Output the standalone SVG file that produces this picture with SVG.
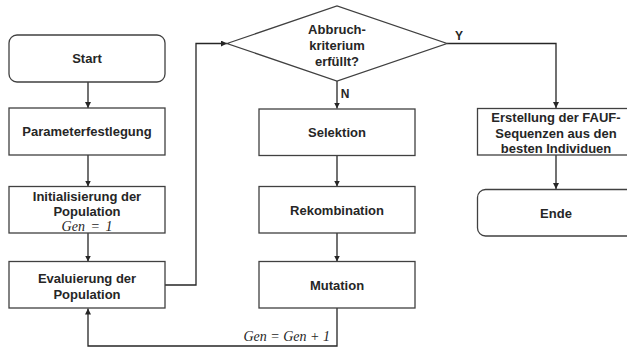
<svg xmlns="http://www.w3.org/2000/svg" width="627" height="348" viewBox="0 0 627 348">
<style>
.box{fill:#fff;stroke:#404040;stroke-width:1.3}
.t{font-family:"Liberation Sans",Arial,sans-serif;font-weight:bold;font-size:13px;fill:#262626;text-anchor:middle}
.m{font-family:"Liberation Serif","Times New Roman",serif;font-style:italic;font-size:14px;fill:#262626;word-spacing:2px}
.c{fill:none;stroke:#262626;stroke-width:1.3}
</style>
<defs>
<marker id="a" markerWidth="8" markerHeight="8" refX="6" refY="3" orient="auto" markerUnits="userSpaceOnUse">
<path d="M0,0 L6,3 L0,6 z" fill="#262626"/>
</marker>
</defs>
<rect width="627" height="348" fill="#fff"/>
<g id="connectors">
<path class="c" d="M88,82 V108" marker-end="url(#a)"/>
<path class="c" d="M88,155 V186.5" marker-end="url(#a)"/>
<path class="c" d="M88,233 V261.5" marker-end="url(#a)"/>
<path class="c" d="M165,285 H196 V43.5 H227" marker-end="url(#a)"/>
<path class="c" d="M337,81 V108.5" marker-end="url(#a)"/>
<path class="c" d="M337,155.5 V186.5" marker-end="url(#a)"/>
<path class="c" d="M337,233 V261.5" marker-end="url(#a)"/>
<path class="c" d="M337,308 V346 H88 V308.5" marker-end="url(#a)"/>
<path class="c" d="M447,43.5 H556 V108" marker-end="url(#a)"/>
<path class="c" d="M556,155 V189" marker-end="url(#a)"/>
<text class="t" x="459" y="40" style="font-size:12px">Y</text>
<text class="t" x="345" y="98" style="font-size:12px">N</text>
<text class="m" x="330" y="341" text-anchor="end" style="word-spacing:0">Gen = Gen + 1</text>
</g>
<g id="start">
<rect class="box" x="9" y="35" width="156" height="47" rx="8"/>
<text class="t" x="87" y="63">Start</text>
</g>
<g id="param">
<rect class="box" x="9" y="108" width="156" height="47"/>
<text class="t" x="87" y="136">Parameterfestlegung</text>
</g>
<g id="init">
<rect class="box" x="9" y="186.5" width="156" height="46.5"/>
<text class="t" x="87" y="200.5">Initialisierung der</text>
<text class="t" x="87" y="216">Population</text>
<text class="m" x="87" y="231" text-anchor="middle">Gen = 1</text>
</g>
<g id="eval">
<rect class="box" x="9" y="261.5" width="156" height="46.5"/>
<text class="t" x="87" y="282.5">Evaluierung der</text>
<text class="t" x="87" y="298.5">Population</text>
</g>
<g id="decision">
<polygon class="box" points="227,43.5 337,6 447,43.5 337,81"/>
<text class="t" x="337" y="33.5">Abbruch-</text>
<text class="t" x="337" y="49.5">kriterium</text>
<text class="t" x="337" y="65.5">erfüllt?</text>
</g>
<g id="selektion">
<rect class="box" x="259" y="109" width="156" height="46.5"/>
<text class="t" x="337" y="137">Selektion</text>
</g>
<g id="rekombination">
<rect class="box" x="259" y="186.5" width="156" height="46.5"/>
<text class="t" x="337" y="214.5">Rekombination</text>
</g>
<g id="mutation">
<rect class="box" x="259" y="261.5" width="156" height="46.5"/>
<text class="t" x="337" y="290">Mutation</text>
</g>
<g id="erstellung">
<rect class="box" x="477.5" y="108.5" width="158" height="46.5"/>
<text class="t" x="556" y="122">Erstellung der FAUF-</text>
<text class="t" x="556" y="137.5">Sequenzen aus den</text>
<text class="t" x="556" y="152.5">besten Individuen</text>
</g>
<g id="ende">
<rect class="box" x="477.5" y="189.5" width="158" height="46.5" rx="8"/>
<text class="t" x="556" y="217.5">Ende</text>
</g>
</svg>
